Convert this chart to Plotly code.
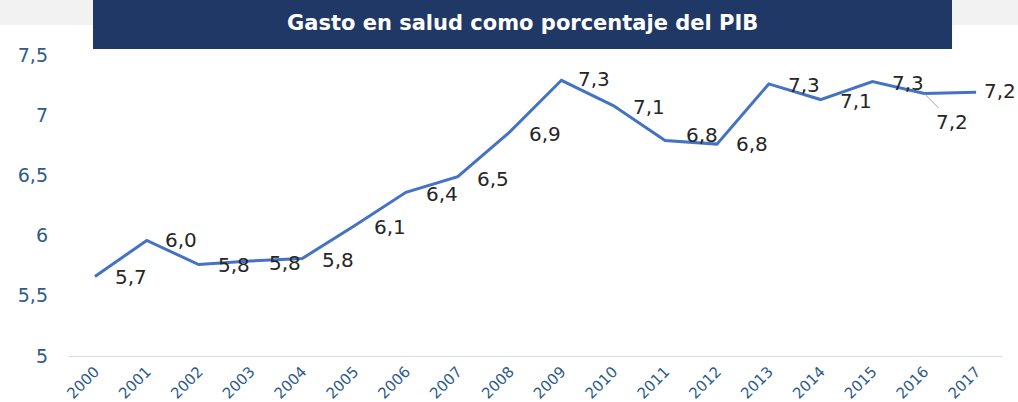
import plotly.graph_objects as go

# ---- data ----
years = [str(y) for y in range(2000, 2018)]
gasto = [5.66, 5.96, 5.76, 5.79, 5.81, 6.08, 6.36, 6.49, 6.86, 7.29,
         7.08, 6.79, 6.76, 7.26, 7.13, 7.28, 7.18, 7.19]
y_ticks = [5, 5.5, 6, 6.5, 7, 7.5]
y_ticktext = ["5", "5,5", "6", "6,5", "7", "7,5"]
title_text = "Gasto en salud como porcentaje del PIB"

# label placement offsets (pixels: dx right, dy down)
label_dx = [36, 34, 35, 35, 36, 36, 36, 35, 35, 33, 36, 37, 35, 35, 35, 36, 28, 24]
label_dy = [0, 0, 0, 2, 2, 1, 2, 2, 2, -1, 1, -6, 0, 1, 1, 1, 28, -1]
leader = [False] * 16 + [True, False]

W, H = 1018, 402
L, R, T, B = 69, 16, 49, 46
pw, ph = W - L - R, H - T - B


def px_x(px):
    return (px - L) / pw


def px_y(py):
    return (H - B - py) / ph


def fmt(v):
    return f"{v:.1f}".replace(".", ",")


fig = go.Figure()
fig.add_trace(go.Scatter(
    x=years, y=gasto, mode="lines",
    line=dict(color="#4472C4", width=3),
    hoverinfo="skip", showlegend=False,
))

label_font = dict(family="DejaVu Sans", size=20, color="#262626")
annotations = []
for i, (v, dx, dy, ld) in enumerate(zip(gasto, label_dx, label_dy, leader)):
    if ld:
        annotations.append(dict(
            x=i, y=v, xref="x", yref="y", text=fmt(v), font=label_font,
            showarrow=True, arrowhead=0, arrowwidth=1, arrowcolor="#A6A6A6",
            ax=dx, ay=dy, standoff=0,
        ))
    else:
        annotations.append(dict(
            x=i, y=v, xref="x", yref="y", text=fmt(v), font=label_font,
            showarrow=False, xshift=dx, yshift=-dy,
        ))

annotations.append(dict(
    x=px_x(522.5), y=px_y(23), xref="paper", yref="paper",
    text=title_text, showarrow=False,
    font=dict(family="DejaVu Sans", size=21, color="white", weight="bold"),
    xanchor="center", yanchor="middle",
))

shapes = [
    dict(type="rect", xref="paper", yref="paper",
         x0=px_x(0), x1=px_x(W), y0=px_y(25), y1=px_y(0),
         fillcolor="#F2F2F2", line=dict(width=0), layer="below"),
    dict(type="rect", xref="paper", yref="paper",
         x0=px_x(93), x1=px_x(952), y0=px_y(49), y1=px_y(0),
         fillcolor="#1F3866", line=dict(width=0), layer="above"),
]

fig.update_layout(
    width=W, height=H,
    margin=dict(l=L, r=R, t=T, b=B, pad=0, autoexpand=False),
    paper_bgcolor="white", plot_bgcolor="white",
    separators=",.",
    annotations=annotations, shapes=shapes,
    xaxis=dict(
        type="category", range=[-0.5, 17.5], automargin=False,
        showgrid=False, zeroline=False,
        showline=True, linecolor="#D9D9D9", linewidth=1,
        ticks="", tickangle=-45,
        tickfont=dict(family="DejaVu Sans", size=15, color="#2E5C8A"),
    ),
    yaxis=dict(
        range=[5, 7.55], tickvals=y_ticks, ticktext=y_ticktext, automargin=False,
        showgrid=False, zeroline=False, showline=False, ticks="",
        ticklabelstandoff=20,
        tickfont=dict(family="DejaVu Sans", size=19, color="#2E5C8A"),
    ),
)

fig.write_html("out.html")
